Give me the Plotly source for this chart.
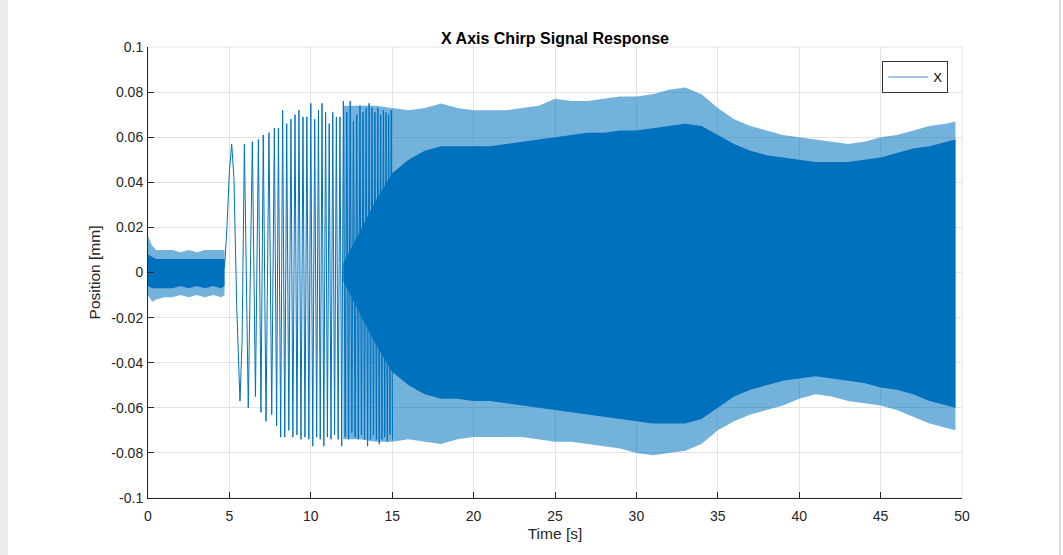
import plotly.graph_objects as go

# ---------------- data ----------------
# Pre-excitation noise band (0 - 4.7 s): envelope of the dense noise
noise_t      = [0.0, 0.25, 0.5, 1.0, 1.5, 2.0, 2.5, 3.0, 3.5, 4.0, 4.5, 4.7]
noise_hi_out = [0.016, 0.012, 0.010, 0.010, 0.010, 0.009, 0.010, 0.009, 0.010, 0.010, 0.010, 0.010]
noise_hi_in  = [0.008, 0.007, 0.006, 0.006, 0.006, 0.006, 0.006, 0.006, 0.006, 0.006, 0.006, 0.006]
noise_lo_in  = [-0.006, -0.007, -0.007, -0.007, -0.007, -0.006, -0.007, -0.006, -0.007, -0.006, -0.007, -0.006]
noise_lo_out = [-0.010, -0.013, -0.012, -0.011, -0.011, -0.010, -0.011, -0.010, -0.011, -0.010, -0.011, -0.010]

# Resolvable chirp oscillation (4.7 - 15 s): successive extrema
chirp_t = [4.70, 4.85, 5.00, 5.14, 5.28, 5.45, 5.65, 5.78, 5.92, 6.16, 6.41, 6.60,
           6.78, 6.94, 7.08, 7.25, 7.43, 7.60, 7.76, 7.90, 8.01, 8.15, 8.27, 8.40,
           8.52, 8.65, 8.78, 8.90, 9.03, 9.15, 9.27, 9.40, 9.52, 9.64, 9.76, 9.88,
           10.00, 10.12, 10.24, 10.36, 10.47, 10.58, 10.69, 10.80, 10.91, 11.02, 11.13, 11.24,
           11.35, 11.46, 11.57, 11.68, 11.79, 11.90, 12.00, 12.11, 12.21, 12.32, 12.42, 12.52,
           12.62, 12.72, 12.82, 12.92, 13.02, 13.11, 13.21, 13.30, 13.40, 13.49, 13.58, 13.67,
           13.76, 13.85, 13.94, 14.03, 14.12, 14.20, 14.29, 14.37, 14.46, 14.54, 14.62, 14.70,
           14.78, 14.86, 14.94, 15.02]
chirp_v = [0.002, 0.020, 0.045, 0.057, 0.042, -0.015, -0.057, -0.030, 0.057, -0.060, 0.058, -0.055,
           0.059, -0.062, 0.061, -0.066, 0.062, -0.063, 0.064, -0.068, 0.064, -0.073, 0.072, -0.073,
           0.066, -0.070, 0.068, -0.073, 0.070, -0.072, 0.072, -0.074, 0.069, -0.073, 0.069, -0.074,
           0.075, -0.077, 0.068, -0.073, 0.072, -0.074, 0.075, -0.077, 0.071, -0.073, 0.066, -0.074,
           0.071, -0.072, 0.069, -0.074, 0.069, -0.077, 0.076, -0.073, 0.071, -0.074, 0.076, -0.071,
           0.067, -0.073, 0.070, -0.074, 0.074, -0.072, 0.071, -0.074, 0.073, -0.077, 0.075, -0.074,
           0.073, -0.072, 0.071, -0.074, 0.073, -0.076, 0.070, -0.074, 0.072, -0.073, 0.071, -0.075,
           0.070, -0.072, 0.072, -0.074]

# Dense (unresolvable) response (12 - 49.6 s): outer spike tips and solid core
dense_t  = [12, 13, 14, 15, 16, 17, 18, 19, 20, 21, 22, 23, 24, 25, 26, 27, 28, 29, 30, 31,
            32, 33, 34, 35, 36, 37, 38, 39, 40, 41, 42, 43, 44, 45, 46, 47, 48, 49, 49.6]
hi_out = [0.074, 0.074, 0.074, 0.073, 0.072, 0.073, 0.075, 0.073, 0.072, 0.072, 0.072, 0.073, 0.074,
          0.077, 0.076, 0.076, 0.077, 0.078, 0.078, 0.079, 0.081, 0.082, 0.079, 0.073, 0.068,
          0.065, 0.063, 0.061, 0.060, 0.059, 0.058, 0.057, 0.058, 0.060, 0.061, 0.063, 0.065,
          0.066, 0.067]
hi_in  = [0.004, 0.018, 0.032, 0.044, 0.050, 0.054, 0.056, 0.056, 0.056, 0.056, 0.057, 0.058, 0.059,
          0.060, 0.061, 0.062, 0.062, 0.063, 0.063, 0.064, 0.065, 0.066, 0.065, 0.061, 0.057,
          0.054, 0.052, 0.051, 0.050, 0.049, 0.049, 0.049, 0.050, 0.051, 0.053, 0.055, 0.056,
          0.058, 0.059]
lo_in  = [-0.004, -0.018, -0.032, -0.044, -0.050, -0.054, -0.056, -0.056, -0.057, -0.057, -0.058, -0.059,
          -0.060, -0.061, -0.062, -0.063, -0.064, -0.065, -0.066, -0.067, -0.067, -0.067, -0.065,
          -0.060, -0.055, -0.052, -0.050, -0.048, -0.047, -0.046, -0.047, -0.048, -0.049, -0.051,
          -0.052, -0.054, -0.057, -0.059, -0.060]
lo_out = [-0.074, -0.074, -0.075, -0.075, -0.074, -0.075, -0.076, -0.074, -0.073, -0.073, -0.073, -0.073,
          -0.074, -0.075, -0.075, -0.076, -0.077, -0.078, -0.080, -0.081, -0.080, -0.079, -0.076,
          -0.070, -0.066, -0.063, -0.061, -0.059, -0.056, -0.054, -0.055, -0.057, -0.058, -0.059,
          -0.061, -0.064, -0.067, -0.069, -0.070]

x_ticks = [0, 5, 10, 15, 20, 25, 30, 35, 40, 45, 50]
y_ticks = [-0.1, -0.08, -0.06, -0.04, -0.02, 0, 0.02, 0.04, 0.06, 0.08, 0.1]
y_ticktext = ["-0.1", "-0.08", "-0.06", "-0.04", "-0.02", "0", "0.02", "0.04", "0.06", "0.08", "0.1"]

BLUE = "#0072BD"
FRINGE = "rgba(0,114,189,0.55)"
TXT = "#262626"
FONT = "Liberation Sans, Arial, Helvetica, sans-serif"

fig = go.Figure()


def band(t, hi, lo, color):
    fig.add_trace(go.Scatter(
        x=list(t) + list(t)[::-1], y=list(hi) + list(lo)[::-1],
        mode="lines", fill="toself", fillcolor=color, line=dict(width=0),
        showlegend=False, hoverinfo="skip"))


band(noise_t, noise_hi_out, noise_lo_out, FRINGE)
band(noise_t, noise_hi_in, noise_lo_in, BLUE)
band(dense_t, hi_out, lo_out, FRINGE)
band(dense_t, hi_in, lo_in, BLUE)

fig.add_trace(go.Scatter(x=chirp_t, y=chirp_v, mode="lines", name="X",
                         line=dict(color=BLUE, width=1), showlegend=False))
# legend entry (thin anti-aliased MATLAB line looks lighter)
fig.add_trace(go.Scatter(x=[None], y=[None], mode="lines", name="X",
                         line=dict(color="#7fb2d8", width=1.5), showlegend=True))

axis_common = dict(
    showgrid=True, gridcolor="#e3e3e3", gridwidth=1, zeroline=False,
    showline=True, linecolor=TXT, linewidth=1,
    ticks="inside", ticklen=6, tickcolor=TXT,
    tickfont=dict(family=FONT, size=14, color=TXT),
)

fig.update_xaxes(range=[0, 50], tickvals=x_ticks, ticklabelstandoff=5, **axis_common,
                 title=dict(text="Time [s]", font=dict(family=FONT, size=15.5, color=TXT), standoff=5))
fig.update_yaxes(range=[-0.1, 0.1], tickvals=y_ticks, ticktext=y_ticktext, ticklabelstandoff=1,
                 **axis_common,
                 title=dict(text="Position [mm]", font=dict(family=FONT, size=15.5, color=TXT), standoff=6))

fig.update_layout(
    width=1063, height=555,
    margin=dict(l=148, r=101, t=47, b=57, autoexpand=False),
    paper_bgcolor="white", plot_bgcolor="white",
    title=dict(text="<b>X Axis Chirp Signal Response</b>", x=0.5, xref="paper",
               y=1 - 38 / 555, yref="container", yanchor="middle", xanchor="center",
               font=dict(family=FONT, size=16, color="black")),
    legend=dict(x=0.983, y=0.969, xanchor="right", yanchor="top",
                bgcolor="white", bordercolor="#333333", borderwidth=1,
                font=dict(family=FONT, size=13, color="black"),
                itemwidth=40, tracegroupgap=0),
    shapes=[
        dict(type="rect", xref="paper", yref="paper", x0=0, x1=1, y0=0, y1=1,
             line=dict(color="#e3e3e3", width=1), layer="below"),
        dict(type="rect", xref="paper", yref="paper", x0=-148 / 814, x1=-140 / 814,
             y0=-57 / 451, y1=508 / 451, line=dict(width=0), fillcolor="#ececec"),
        dict(type="rect", xref="paper", yref="paper", x0=-148 / 814, x1=915 / 814,
             y0=504 / 451, y1=508 / 451, line=dict(width=0), fillcolor="#ededed"),
        dict(type="rect", xref="paper", yref="paper", x0=911 / 814, x1=913 / 814,
             y0=-57 / 451, y1=508 / 451, line=dict(width=0), fillcolor="#dcdcdc"),
    ],
    showlegend=True,
)

fig.write_html("out.html")
